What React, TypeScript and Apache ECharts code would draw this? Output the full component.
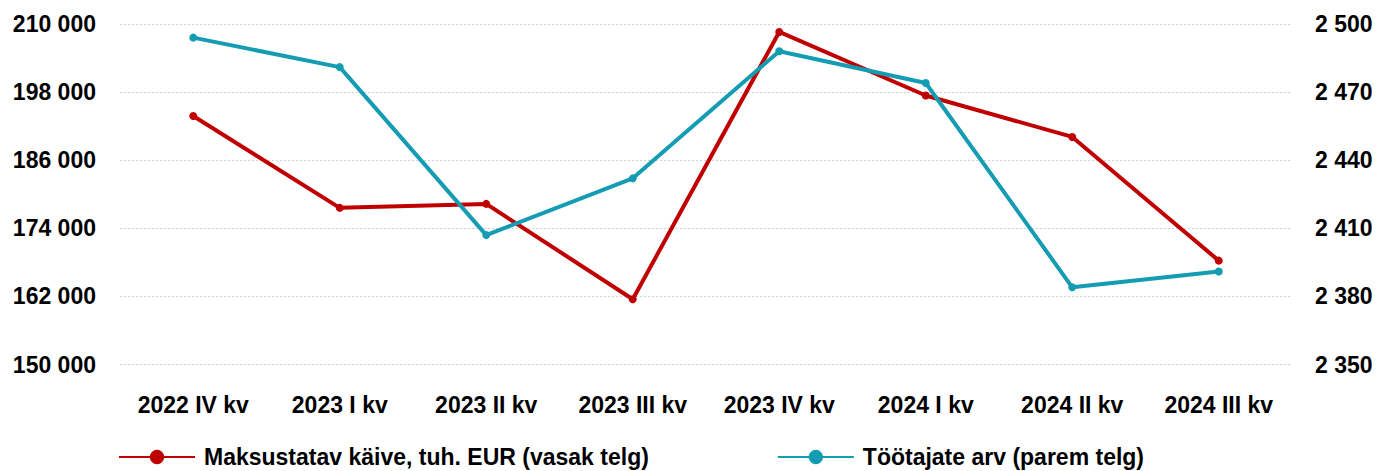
import React, { useEffect, useRef } from "react";
import * as echarts from "echarts";

const categories = ["2022 IV kv", "2023 I kv", "2023 II kv", "2023 III kv", "2023 IV kv", "2024 I kv", "2024 II kv", "2024 III kv"];
const turnover = [193800, 177600, 178300, 161500, 208600, 197400, 190100, 168300];
const employees = [2494, 2481, 2407, 2432, 2488, 2474, 2384, 2391];
const seriesNames = ["Maksustatav käive, tuh. EUR (vasak telg)", "Töötajate arv (parem telg)"];

const RED = "#C00000";
const TEAL = "#149CB2";
const FONT = "'Liberation Sans', Arial, sans-serif";

const fmt = (v: number) => {
  const s = String(Math.round(v));
  return s.replace(/\B(?=(\d{3})+(?!\d))/g, " ");
};

export default function App() {
  const ref = useRef<HTMLDivElement>(null);
  useEffect(() => {
    if (!ref.current) return;
    const chart = echarts.init(ref.current, null, { renderer: "svg" });
    chart.setOption({
      animation: false,
      backgroundColor: "#ffffff",
      grid: { left: 120, right: 99, top: 24, bottom: 106.5, containLabel: false },
      legend: {
        left: 118,
        top: 445,
        itemWidth: 76,
        itemHeight: 18,
        itemGap: 128,
        padding: 0,
        textStyle: { fontFamily: FONT, fontWeight: "bold", fontSize: 23, lineHeight: 24, color: "#000", padding: [0, 0, 0, 4] },
        data: seriesNames,
      },
      xAxis: {
        type: "category",
        data: categories,
        boundaryGap: true,
        axisLine: { show: false },
        axisTick: { show: false },
        axisLabel: { fontFamily: FONT, fontWeight: "bold", fontSize: 23, color: "#000", margin: 29 },
      },
      yAxis: [
        {
          type: "value",
          min: 150000,
          max: 210000,
          interval: 12000,
          axisLine: { show: false },
          axisTick: { show: false },
          splitLine: { show: true, lineStyle: { color: "#D0D0D0", type: [2, 2], width: 1 } },
          axisLabel: { fontFamily: FONT, fontWeight: "bold", fontSize: 23, color: "#000", margin: 24, formatter: fmt },
        },
        {
          type: "value",
          min: 2350,
          max: 2500,
          interval: 30,
          axisLine: { show: false },
          axisTick: { show: false },
          splitLine: { show: false },
          axisLabel: { fontFamily: FONT, fontWeight: "bold", fontSize: 23, color: "#000", margin: 23, formatter: fmt },
        },
      ],
      series: [
        {
          name: seriesNames[0],
          type: "line",
          yAxisIndex: 0,
          data: turnover,
          symbol: "circle",
          symbolSize: 8,
          lineStyle: { color: RED, width: 4 },
          itemStyle: { color: RED },
        },
        {
          name: seriesNames[1],
          type: "line",
          yAxisIndex: 1,
          data: employees,
          symbol: "circle",
          symbolSize: 8,
          lineStyle: { color: TEAL, width: 4 },
          itemStyle: { color: TEAL },
        },
      ],
    });
    return () => chart.dispose();
  }, []);
  return <div ref={ref} style={{ position: "fixed", left: 0, top: 0, width: 1391, height: 471 }} />;
}
